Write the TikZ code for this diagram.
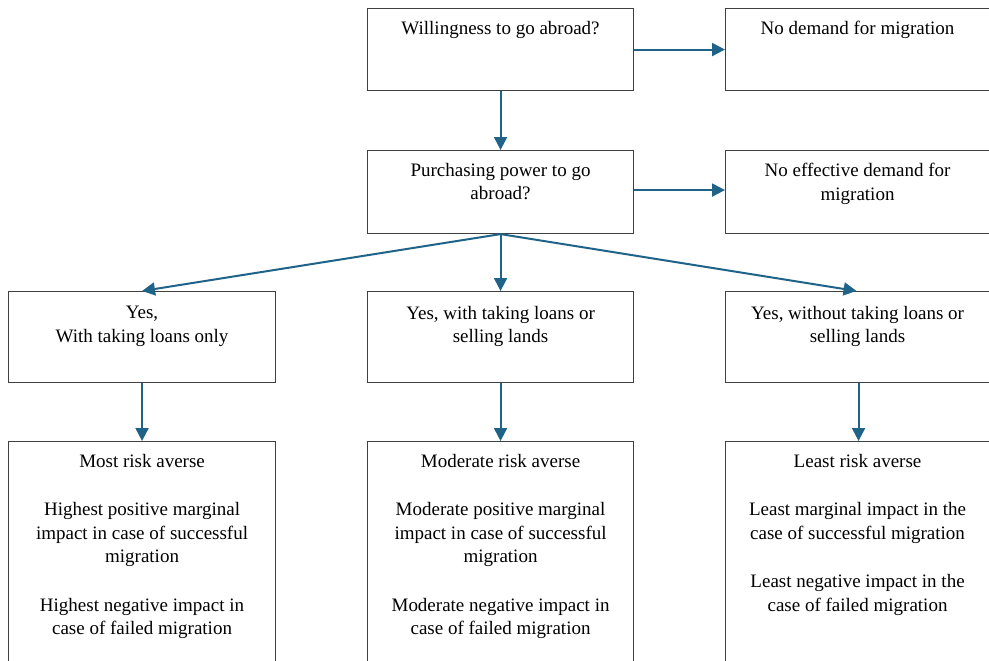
\documentclass[tikz,border=0pt]{standalone}
\usepackage{fontspec}
\setmainfont{Liberation Serif}
\usetikzlibrary{arrows.meta}
\definecolor{arr}{RGB}{31,99,136}
\definecolor{bord}{RGB}{64,64,64}
\begin{document}
\begin{tikzpicture}[x=1pt,y=-1pt,
  box/.style={draw=bord,line width=1.1pt,anchor=north west,inner sep=0pt,
              minimum width=266pt,minimum height=82pt},
  wbox/.style={box,minimum width=270pt},
  txt/.style={anchor=north,align=center,inner sep=0pt,
              font=\fontsize{19}{23.5}\selectfont},
  conn/.style={draw=arr,line width=2pt,-{Triangle[length=13pt,width=13pt]}}]
\useasboundingbox (0,0) rectangle (989,661);
% boxes
\node[box]  (A) at (367,8) {};
\node[wbox] (B) at (725,8) {};
\node[box,minimum height=83pt]  (C) at (367,150) {};
\node[wbox,minimum height=83pt] (D) at (725,150) {};
\node[box,minimum height=91pt,minimum width=267pt] (E) at (8,291) {};
\node[box,minimum height=91pt]  (F) at (367,291) {};
\node[wbox,minimum height=91pt] (G) at (725,291) {};
\node[box,minimum height=240pt,minimum width=267pt] (E2) at (8,441) {};
\node[box,minimum height=240pt]  (F2) at (367,441) {};
\node[wbox,minimum height=240pt] (G2) at (725,441) {};
% texts
\node[txt] (tA) at ([yshift=-13pt]A.north) {Willingness to go abroad?};
\node[txt] (tB) at ([xshift=-3pt,yshift=-13pt]B.north) {No demand for migration};
\node[txt] (tC) at ([yshift=-13pt]C.north) {Purchasing power to go\\abroad?};
\node[txt] (tD) at ([xshift=-3pt,yshift=-13pt]D.north) {No effective demand for\\migration};
\node[txt] (tE) at ([yshift=-15pt]E.north) {Yes,\\With taking loans only};
\node[txt] (tF) at ([yshift=-15pt]F.north) {Yes, with taking loans or\\selling lands};
\node[txt] (tG) at ([xshift=-3pt,yshift=-15pt]G.north) {Yes, without taking loans or\\selling lands};
\node[txt] (tE2) at ([yshift=-13pt]E2.north) {Most risk averse\\[25pt]Highest positive marginal\\impact in case of successful\\migration\\[25pt]Highest negative impact in\\case of failed migration};
\node[txt] (tF2) at ([yshift=-13pt]F2.north) {Moderate risk averse\\[25pt]Moderate positive marginal\\impact in case of successful\\migration\\[25pt]Moderate negative impact in\\case of failed migration};
\node[txt] (tG2) at ([xshift=-3pt,yshift=-13pt]G2.north) {Least risk averse\\[25pt]Least marginal impact in the\\case of successful migration\\[25pt]Least negative impact in the\\case of failed migration};
% connectors
\draw[conn] (A.east) -- (B.west);
\draw[conn] (A.south) -- (C.north);
\draw[conn] ([yshift=2pt]C.east) -- ([yshift=2pt]D.west);
\draw[conn] (C.south) -- (E.north);
\draw[conn] (C.south) -- (F.north);
\draw[conn] (C.south) -- ([xshift=-4pt]G.north);
\draw[conn] (E.south) -- (E2.north);
\draw[conn] (F.south) -- (F2.north);
\draw[conn] ([xshift=-2pt]G.south) -- ([xshift=-2pt]G2.north);
\end{tikzpicture}
\end{document}
